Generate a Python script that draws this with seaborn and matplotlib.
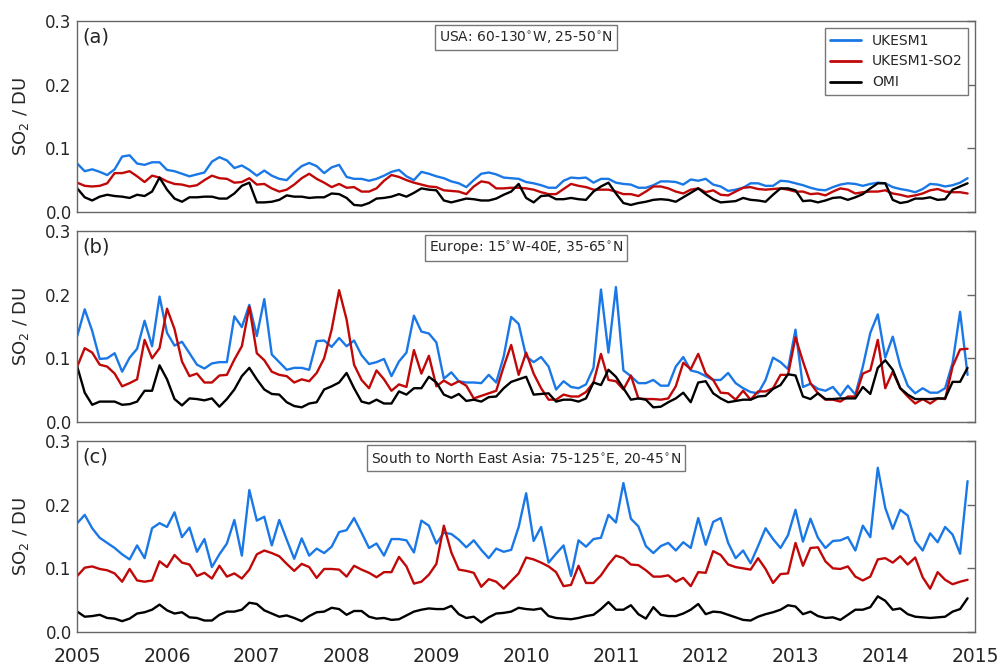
import numpy as np
import pandas as pd
import matplotlib
matplotlib.use('Agg')
import matplotlib.pyplot as plt
import seaborn as sns

# monthly means Jan 2005 - Dec 2014, one row per year
usa_ukesm = [
    0.076, 0.064, 0.067, 0.063, 0.058, 0.067, 0.087, 0.089, 0.076, 0.074, 0.078, 0.078,
    0.066, 0.064, 0.060, 0.056, 0.059, 0.062, 0.079, 0.086, 0.081, 0.069, 0.073, 0.066,
    0.057, 0.065, 0.057, 0.052, 0.050, 0.062, 0.072, 0.077, 0.072, 0.061, 0.070, 0.074,
    0.055, 0.052, 0.052, 0.049, 0.052, 0.057, 0.063, 0.066, 0.056, 0.050, 0.063, 0.060,
    0.056, 0.053, 0.048, 0.045, 0.039, 0.050, 0.060, 0.062, 0.059, 0.054, 0.053, 0.052,
    0.047, 0.045, 0.042, 0.038, 0.038, 0.049, 0.054, 0.053, 0.054, 0.046, 0.052, 0.052,
    0.046, 0.044, 0.043, 0.038, 0.038, 0.042, 0.048, 0.048, 0.047, 0.043, 0.051, 0.049,
    0.052, 0.043, 0.040, 0.033, 0.035, 0.038, 0.045, 0.045, 0.041, 0.041, 0.049, 0.048,
    0.045, 0.042, 0.038, 0.035, 0.034, 0.039, 0.043, 0.045, 0.044, 0.041, 0.044, 0.046,
    0.045, 0.039, 0.036, 0.034, 0.031, 0.036, 0.044, 0.043, 0.040, 0.042, 0.046, 0.053,
]
usa_ukesm_so2 = [
    0.046, 0.041, 0.040, 0.041, 0.045, 0.061, 0.061, 0.064, 0.056, 0.047, 0.057, 0.054,
    0.048, 0.044, 0.043, 0.040, 0.042, 0.050, 0.057, 0.053, 0.052, 0.046, 0.047, 0.053,
    0.043, 0.044, 0.037, 0.032, 0.035, 0.043, 0.053, 0.060, 0.052, 0.046, 0.039, 0.044,
    0.038, 0.039, 0.032, 0.032, 0.037, 0.049, 0.058, 0.055, 0.050, 0.046, 0.043, 0.040,
    0.039, 0.034, 0.033, 0.032, 0.028, 0.040, 0.048, 0.046, 0.037, 0.037, 0.038, 0.038,
    0.037, 0.035, 0.031, 0.028, 0.028, 0.036, 0.044, 0.041, 0.039, 0.035, 0.035, 0.035,
    0.032, 0.028, 0.028, 0.025, 0.032, 0.040, 0.040, 0.037, 0.032, 0.029, 0.035, 0.037,
    0.031, 0.034, 0.027, 0.026, 0.032, 0.038, 0.039, 0.036, 0.035, 0.036, 0.037, 0.035,
    0.032, 0.032, 0.028, 0.029, 0.026, 0.032, 0.037, 0.035, 0.029, 0.031, 0.032, 0.032,
    0.034, 0.029, 0.027, 0.024, 0.026, 0.029, 0.034, 0.036, 0.032, 0.031, 0.031, 0.029,
]
usa_omi = [
    0.037, 0.023, 0.018, 0.024, 0.027, 0.025, 0.024, 0.022, 0.027, 0.025, 0.032, 0.054,
    0.035, 0.021, 0.016, 0.023, 0.023, 0.024, 0.024, 0.021, 0.021, 0.029, 0.041, 0.046,
    0.015, 0.015, 0.016, 0.019, 0.026, 0.024, 0.024, 0.022, 0.023, 0.023, 0.029, 0.028,
    0.022, 0.011, 0.010, 0.014, 0.021, 0.022, 0.024, 0.028, 0.024, 0.030, 0.037, 0.035,
    0.034, 0.018, 0.015, 0.018, 0.021, 0.020, 0.018, 0.018, 0.021, 0.027, 0.032, 0.044,
    0.022, 0.015, 0.025, 0.026, 0.020, 0.020, 0.022, 0.020, 0.019, 0.032, 0.040, 0.046,
    0.029, 0.014, 0.011, 0.014, 0.016, 0.019, 0.020, 0.019, 0.016, 0.023, 0.030, 0.037,
    0.028, 0.020, 0.015, 0.016, 0.017, 0.022, 0.019, 0.018, 0.016, 0.027, 0.037, 0.037,
    0.034, 0.017, 0.018, 0.015, 0.018, 0.022, 0.023, 0.019, 0.023, 0.028, 0.037, 0.045,
    0.045, 0.019, 0.014, 0.016, 0.021, 0.021, 0.023, 0.019, 0.020, 0.035, 0.040, 0.045,
]

eur_ukesm = [
    0.135, 0.177, 0.143, 0.099, 0.100, 0.108, 0.079, 0.101, 0.115, 0.159, 0.119, 0.197,
    0.140, 0.120, 0.126, 0.108, 0.090, 0.084, 0.092, 0.094, 0.094, 0.166, 0.149, 0.184,
    0.135, 0.193, 0.106, 0.094, 0.082, 0.085, 0.085, 0.082, 0.127, 0.128, 0.118, 0.132,
    0.119, 0.128, 0.105, 0.091, 0.094, 0.099, 0.072, 0.095, 0.109, 0.167, 0.142, 0.139,
    0.125, 0.068, 0.078, 0.064, 0.062, 0.062, 0.061, 0.074, 0.062, 0.103, 0.165, 0.154,
    0.103, 0.094, 0.102, 0.087, 0.051, 0.064, 0.055, 0.053, 0.059, 0.085, 0.208, 0.109,
    0.212, 0.081, 0.072, 0.061, 0.061, 0.066, 0.057, 0.057, 0.087, 0.102, 0.081, 0.078,
    0.072, 0.066, 0.066, 0.077, 0.061, 0.053, 0.047, 0.045, 0.066, 0.101, 0.094, 0.083,
    0.145, 0.055, 0.060, 0.052, 0.049, 0.055, 0.041, 0.057, 0.043, 0.087, 0.140, 0.169,
    0.101, 0.134, 0.088, 0.057, 0.045, 0.053, 0.046, 0.046, 0.053, 0.093, 0.173, 0.074,
]
eur_ukesm_so2 = [
    0.087, 0.116, 0.109, 0.090, 0.087, 0.076, 0.056, 0.061, 0.067, 0.129, 0.100, 0.116,
    0.178, 0.146, 0.095, 0.072, 0.076, 0.062, 0.062, 0.073, 0.074, 0.098, 0.119, 0.181,
    0.108, 0.097, 0.079, 0.074, 0.072, 0.062, 0.067, 0.064, 0.077, 0.100, 0.145, 0.207,
    0.161, 0.090, 0.066, 0.053, 0.081, 0.067, 0.049, 0.059, 0.055, 0.113, 0.076, 0.104,
    0.056, 0.065, 0.058, 0.064, 0.057, 0.037, 0.041, 0.045, 0.049, 0.087, 0.121, 0.074,
    0.109, 0.076, 0.053, 0.035, 0.035, 0.043, 0.040, 0.040, 0.047, 0.062, 0.107, 0.066,
    0.064, 0.051, 0.073, 0.037, 0.036, 0.036, 0.035, 0.037, 0.056, 0.093, 0.083, 0.107,
    0.076, 0.066, 0.046, 0.045, 0.035, 0.049, 0.035, 0.048, 0.048, 0.053, 0.074, 0.074,
    0.133, 0.095, 0.061, 0.045, 0.035, 0.035, 0.032, 0.040, 0.040, 0.076, 0.081, 0.129,
    0.053, 0.079, 0.053, 0.040, 0.029, 0.036, 0.029, 0.037, 0.036, 0.087, 0.114, 0.115,
]
eur_omi = [
    0.087, 0.046, 0.027, 0.032, 0.032, 0.032, 0.027, 0.028, 0.032, 0.049, 0.049, 0.089,
    0.067, 0.036, 0.026, 0.037, 0.036, 0.034, 0.037, 0.024, 0.036, 0.051, 0.072, 0.085,
    0.067, 0.051, 0.044, 0.043, 0.031, 0.025, 0.023, 0.029, 0.031, 0.051, 0.056, 0.062,
    0.077, 0.053, 0.032, 0.029, 0.035, 0.029, 0.029, 0.048, 0.043, 0.053, 0.053, 0.071,
    0.062, 0.043, 0.038, 0.044, 0.033, 0.035, 0.032, 0.039, 0.040, 0.053, 0.063, 0.067,
    0.071, 0.043, 0.044, 0.045, 0.032, 0.035, 0.035, 0.032, 0.037, 0.062, 0.058, 0.082,
    0.071, 0.053, 0.035, 0.037, 0.035, 0.023, 0.024, 0.031, 0.037, 0.046, 0.031, 0.062,
    0.064, 0.045, 0.037, 0.031, 0.033, 0.035, 0.035, 0.040, 0.041, 0.052, 0.058, 0.075,
    0.073, 0.040, 0.036, 0.045, 0.036, 0.036, 0.037, 0.037, 0.037, 0.055, 0.044, 0.085,
    0.097, 0.082, 0.053, 0.043, 0.036, 0.036, 0.036, 0.037, 0.037, 0.063, 0.063, 0.085,
]

asia_ukesm = [
    0.171, 0.184, 0.163, 0.148, 0.140, 0.132, 0.122, 0.114, 0.136, 0.116, 0.163, 0.171,
    0.165, 0.188, 0.149, 0.164, 0.126, 0.146, 0.102, 0.122, 0.139, 0.176, 0.120, 0.223,
    0.175, 0.181, 0.136, 0.176, 0.145, 0.115, 0.147, 0.120, 0.131, 0.124, 0.134, 0.157,
    0.160, 0.179, 0.156, 0.132, 0.139, 0.120, 0.146, 0.146, 0.144, 0.125, 0.175, 0.167,
    0.139, 0.156, 0.154, 0.145, 0.133, 0.144, 0.129, 0.116, 0.131, 0.126, 0.129, 0.165,
    0.218, 0.143, 0.165, 0.109, 0.123, 0.136, 0.088, 0.144, 0.134, 0.146, 0.148, 0.184,
    0.172, 0.234, 0.178, 0.166, 0.135, 0.124, 0.135, 0.140, 0.128, 0.141, 0.132, 0.179,
    0.137, 0.173, 0.179, 0.140, 0.116, 0.128, 0.108, 0.135, 0.163, 0.146, 0.132, 0.152,
    0.192, 0.142, 0.178, 0.148, 0.132, 0.143, 0.144, 0.149, 0.128, 0.167, 0.149, 0.258,
    0.195, 0.162, 0.192, 0.183, 0.143, 0.128, 0.155, 0.141, 0.165, 0.153, 0.123, 0.237,
]
asia_ukesm_so2 = [
    0.088, 0.101, 0.103, 0.099, 0.097, 0.092, 0.079, 0.099, 0.081, 0.079, 0.081, 0.111,
    0.102, 0.121, 0.109, 0.106, 0.088, 0.093, 0.084, 0.104, 0.087, 0.092, 0.084, 0.098,
    0.122, 0.128, 0.124, 0.119, 0.107, 0.096, 0.107, 0.102, 0.085, 0.099, 0.099, 0.098,
    0.087, 0.104, 0.098, 0.093, 0.086, 0.094, 0.094, 0.118, 0.103, 0.076, 0.079, 0.090,
    0.107, 0.167, 0.125, 0.098, 0.096, 0.093, 0.071, 0.083, 0.079, 0.068, 0.080, 0.092,
    0.117, 0.114, 0.109, 0.103, 0.094, 0.072, 0.074, 0.104, 0.077, 0.077, 0.089, 0.106,
    0.120, 0.116, 0.106, 0.105, 0.097, 0.087, 0.087, 0.089, 0.079, 0.085, 0.072, 0.094,
    0.093, 0.127, 0.121, 0.106, 0.102, 0.100, 0.098, 0.116, 0.099, 0.077, 0.091, 0.092,
    0.140, 0.104, 0.132, 0.133, 0.111, 0.100, 0.099, 0.103, 0.087, 0.081, 0.087, 0.114,
    0.116, 0.109, 0.119, 0.106, 0.117, 0.086, 0.068, 0.094, 0.082, 0.075, 0.079, 0.082,
]
asia_omi = [
    0.032, 0.024, 0.025, 0.027, 0.022, 0.021, 0.017, 0.021, 0.029, 0.031, 0.035, 0.043,
    0.034, 0.029, 0.031, 0.023, 0.022, 0.018, 0.018, 0.027, 0.032, 0.032, 0.035, 0.046,
    0.044, 0.034, 0.029, 0.024, 0.026, 0.022, 0.017, 0.025, 0.031, 0.032, 0.038, 0.036,
    0.027, 0.033, 0.033, 0.024, 0.021, 0.022, 0.019, 0.020, 0.026, 0.032, 0.035, 0.037,
    0.036, 0.036, 0.041, 0.028, 0.022, 0.024, 0.015, 0.023, 0.029, 0.030, 0.032, 0.038,
    0.036, 0.035, 0.037, 0.025, 0.022, 0.021, 0.020, 0.022, 0.025, 0.027, 0.036, 0.047,
    0.035, 0.035, 0.042, 0.028, 0.021, 0.039, 0.027, 0.025, 0.025, 0.029, 0.035, 0.044,
    0.028, 0.032, 0.031, 0.027, 0.023, 0.019, 0.018, 0.024, 0.028, 0.031, 0.035, 0.042,
    0.040, 0.028, 0.032, 0.025, 0.022, 0.023, 0.019, 0.027, 0.035, 0.035, 0.039, 0.056,
    0.049, 0.035, 0.037, 0.028, 0.024, 0.023, 0.022, 0.023, 0.024, 0.032, 0.036, 0.053,
]

run_names = ['UKESM1', 'UKESM1-SO2', 'OMI']
panel_letters = ['(a)', '(b)', '(c)']
region_names = ['USA: 60-130$^{\\circ}$W, 25-50$^{\\circ}$N',
                'Europe: 15$^{\\circ}$W-40E, 35-65$^{\\circ}$N',
                'South to North East Asia: 75-125$^{\\circ}$E, 20-45$^{\\circ}$N']
year_ticks = list(range(2005, 2016))
so2_ticks = [0.0, 0.1, 0.2, 0.3]

palette = {'UKESM1': '#1a78e6', 'UKESM1-SO2': '#c00808', 'OMI': '#000000'}
months = np.arange(120)
year_frac = 2005 + months / 12.0

sns.set_style('white')
plt.rcParams['font.family'] = ['DejaVu Sans']

fig, axes = plt.subplots(3, 1, figsize=(9.98, 6.67), dpi=100, sharex=True)
fig.subplots_adjust(left=0.0774, right=0.977, top=0.9685, bottom=0.0525, hspace=0.1)

all_series = [(usa_ukesm, usa_ukesm_so2, usa_omi),
              (eur_ukesm, eur_ukesm_so2, eur_omi),
              (asia_ukesm, asia_ukesm_so2, asia_omi)]

for i, ax in enumerate(axes):
    ukesm, ukesm_so2, omi = all_series[i]
    df = pd.DataFrame({
        'year': np.tile(year_frac, 3),
        'so2': np.concatenate([ukesm, ukesm_so2, omi]),
        'run': np.repeat(run_names, 120),
    })
    sns.lineplot(data=df, x='year', y='so2', hue='run', hue_order=run_names,
                 palette=palette, linewidth=1.7, errorbar=None, ax=ax, legend=(i == 0))

    ax.set_xlim(2005, 2015)
    ax.set_ylim(0, 0.3)
    ax.set_yticks(so2_ticks)
    ax.set_yticklabels(['%.1f' % t for t in so2_ticks])
    ax.set_xticks(year_ticks)
    ax.set_xticklabels([str(y) for y in year_ticks])
    ax.tick_params(axis='both', direction='in', length=6, color='#666666', width=1)
    ax.tick_params(axis='y', right=True, labelsize=12, pad=4)
    ax.tick_params(axis='x', labelsize=13.5, pad=11)
    for sp in ax.spines.values():
        sp.set_color('#666666')
        sp.set_linewidth(1)
    ax.set_xlabel('')
    ax.set_ylabel('SO$_2$ / DU', fontsize=13)
    ax.yaxis.set_label_coords(-0.052, 0.5)

    ax.text(0.006, 0.965, panel_letters[i], transform=ax.transAxes, ha='left', va='top', fontsize=14)
    ax.text(0.5, 0.955, region_names[i], transform=ax.transAxes, ha='center', va='top', fontsize=10,
            bbox=dict(boxstyle='square,pad=0.3', fc='white', ec='#777777', lw=1))

leg = axes[0].legend(loc='upper right', fontsize=10, frameon=True, fancybox=False,
                     edgecolor='#777777', framealpha=1, handlelength=2.2, borderaxespad=0.5)
leg.get_frame().set_linewidth(1)
for line in leg.get_lines():
    line.set_linewidth(2)

fig.savefig('out.png', dpi=100)
